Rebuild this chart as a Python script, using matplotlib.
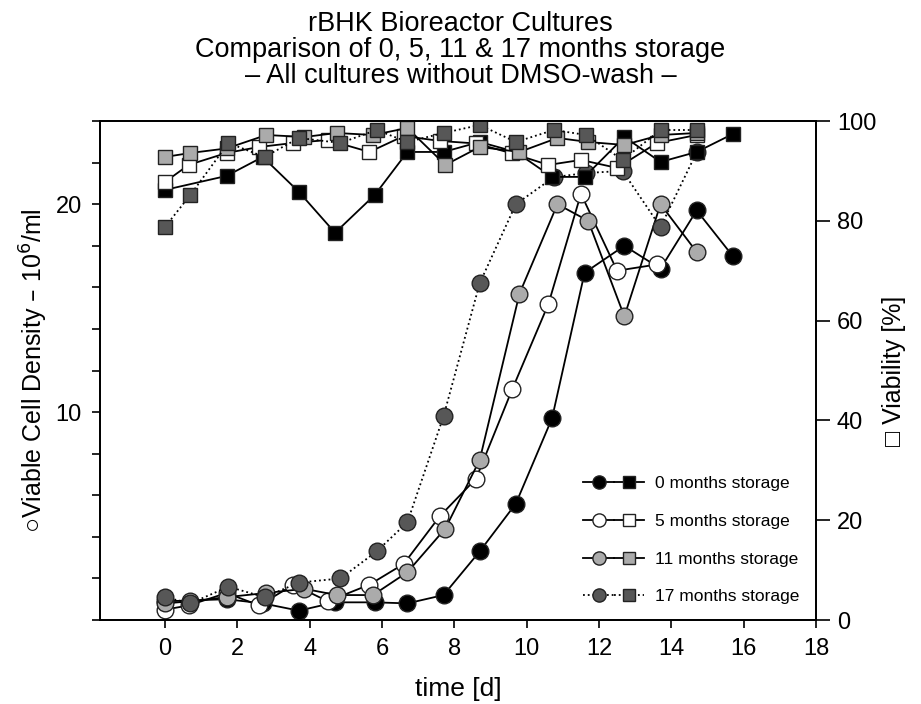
import matplotlib
matplotlib.use("Agg")
import matplotlib.pyplot as plt
from matplotlib.lines import Line2D
from matplotlib.legend_handler import HandlerTuple

plt.rcParams['font.family'] = ['Liberation Sans', 'DejaVu Sans']

# 0 months storage
days0 = [0, 1.7, 2.7, 3.7, 4.7, 5.8, 6.7, 7.7, 8.7, 9.7, 10.7, 11.6, 12.7, 13.7, 14.7, 15.7]
cells0 = [0.9, 1.0, 0.8, 0.45, 0.85, 0.85, 0.8, 1.2, 3.3, 5.6, 9.7, 16.7, 18.0, 16.9, 19.7, 17.5]
via0 = [86.2, 89.0, 92.8, 85.8, 77.6, 85.2, 93.8, 93.8, 95.8, 93.8, 88.8, 88.8, 96.8, 91.8, 93.8, 97.4]

# 5 months storage
days5 = [0, 0.65, 1.7, 2.6, 3.55, 4.5, 5.65, 6.6, 7.6, 8.6, 9.6, 10.6, 11.5, 12.5, 13.6]
cells5 = [0.5, 0.7, 1.3, 0.7, 1.7, 0.9, 1.7, 2.7, 5.0, 6.8, 11.1, 15.2, 20.5, 16.8, 17.1]
days5v = [0, 0.65, 1.7, 2.6, 3.55, 4.5, 5.65, 6.6, 7.6, 8.6, 9.6, 10.6, 11.5, 12.5, 13.6, 14.7]
via5 = [87.8, 91.2, 93.6, 94.8, 95.6, 96.2, 93.8, 97.0, 96.0, 95.5, 93.5, 91.2, 92.2, 90.6, 95.6, 97.2]

# 11 months storage
days11 = [0, 0.7, 1.7, 2.8, 3.85, 4.75, 5.75, 6.7, 7.75, 8.7, 9.8, 10.85, 11.7, 12.7, 13.7, 14.7]
cells11 = [0.8, 0.9, 1.1, 1.3, 1.5, 1.2, 1.2, 2.3, 4.4, 7.7, 15.7, 20.0, 19.2, 14.6, 20.0, 17.7]
via11 = [92.8, 93.6, 94.5, 97.2, 96.8, 97.6, 97.2, 98.6, 91.2, 94.8, 93.8, 96.6, 95.8, 95.2, 97.2, 97.6]

# 17 months storage
days17 = [0, 0.7, 1.75, 2.75, 3.7, 4.85, 5.85, 6.7, 7.7, 8.7, 9.7, 10.75, 11.65, 12.65, 13.7, 14.7]
cells17 = [1.1, 0.8, 1.6, 1.1, 1.8, 2.0, 3.3, 4.7, 9.8, 16.2, 20.0, 21.3, 21.5, 21.6, 18.9, 22.5]
via17 = [78.8, 85.2, 95.6, 92.8, 96.6, 95.6, 98.2, 95.8, 97.6, 99.2, 95.8, 98.2, 97.2, 92.2, 98.2, 98.2]

labels = ['0 months storage', '5 months storage', '11 months storage', '17 months storage']
fills = ['black', 'white', '#ababab', '#575757']
styles = ['-', '-', '-', ':']

series = [
    (days0, cells0, days0, via0),
    (days5, cells5, days5v, via5),
    (days11, cells11, days11, via11),
    (days17, cells17, days17, via17),
]

fig = plt.figure(figsize=(9.21, 7.04), dpi=100)
ax = fig.add_axes([0.1086, 0.1193, 0.7774, 0.7088])
ax2 = ax.twinx()

handles = []
for (dc, c, dv, v), fc, ls, lab in zip(series, fills, styles, labels):
    ax.plot(dc, c, linestyle=ls, color='black', lw=1.3, marker='o', ms=12,
            mfc=fc, mec='#222222', mew=1.0)
    ax2.plot(dv, v, linestyle=ls, color='black', lw=1.3, marker='s', ms=10.5,
             mfc=fc, mec='#222222', mew=1.0)
    h1 = Line2D([], [], linestyle=ls, color='black', lw=1.3, marker='o', ms=9.5,
                mfc=fc, mec='#222222')
    h2 = Line2D([], [], linestyle=ls, color='black', lw=1.3, marker='s', ms=9,
                mfc=fc, mec='#222222')
    handles.append((h1, h2))

ax.set_xlim(-1.8, 18)
ax.set_ylim(0, 24)
ax2.set_ylim(0, 100)

ax.set_xticks(range(0, 19, 2))
ax.set_yticks(range(0, 25, 2))
ax.set_yticklabels(['10' if t == 10 else '20' if t == 20 else '' for t in range(0, 25, 2)])
ax2.set_yticks(range(0, 101, 20))

ax.tick_params(axis='both', direction='out', length=6, width=1.2, labelsize=17, pad=7)
ax2.tick_params(axis='y', direction='out', length=10, width=1.2, labelsize=17, pad=5)
for sp in ax.spines.values():
    sp.set_linewidth(1.3)
for sp in ax2.spines.values():
    sp.set_linewidth(1.3)

ax.set_xlabel('time [d]', fontsize=19, labelpad=12)
ax.set_ylabel('○Viable Cell Density – 10$^6$/ml', fontsize=18, labelpad=4)
ax2.set_ylabel('□ Viability [%]', fontsize=18, labelpad=4)

fig.suptitle('rBHK Bioreactor Cultures\nComparison of 0, 5, 11 & 17 months storage\n'
             '– All cultures without DMSO-wash –', fontsize=19.5, y=0.985, linespacing=1.0)

ax2.legend(handles, labels, handler_map={tuple: HandlerTuple(ndivide=None, pad=0)},
           loc='lower right', bbox_to_anchor=(0.998, 0.0), frameon=False,
           fontsize=12.5, handlelength=3.5, handletextpad=0.6, labelspacing=1.3,
           borderaxespad=0.5)

fig.savefig('out.png', dpi=100)
